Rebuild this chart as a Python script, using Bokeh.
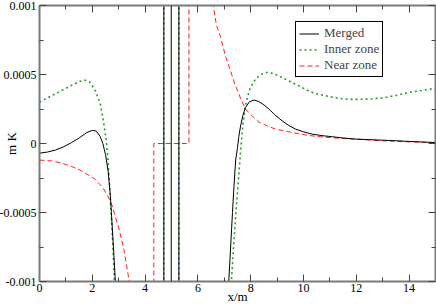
import numpy as np
from bokeh.plotting import figure
from bokeh.models import Range1d, LinearAxis, FixedTicker, CustomJSTickFormatter, Legend, LegendItem
from bokeh.embed import file_html
from bokeh.resources import INLINE

# ---------------- data ----------------
x_ticks = [0, 2, 4, 6, 8, 10, 12, 14]
x_minor = [1, 3, 5, 7, 9, 11, 13]
y_ticks = [-0.001, -0.0005, 0, 0.0005, 0.001]
y_minor = [-0.00075, -0.00025, 0.00025, 0.00075]
y_labels = ["-0.001", "-0.0005", "0", "0.0005", "0.001"]

series_names = ["Merged", "Inner zone", "Near zone"]

merged_x1 = [0, 0.3, 0.6, 0.9, 1.2, 1.5, 1.8, 2.0, 2.15, 2.3, 2.4, 2.5, 2.6, 2.68, 2.76, 2.83, 2.9]
merged_y1 = [-0.00007, -0.000062, -0.000048, -0.000025, 0.000005, 0.00004, 0.00008, 0.000095,
             0.00009, 0.00005, 0.0, -0.00008, -0.0002, -0.00037, -0.00062, -0.00085, -0.0011]
merged_pole_x = [4.71, 4.99, 5.28]
merged_pole_y = [-0.002, 0.002]
merged_x2 = [7.14, 7.17, 7.24, 7.31, 7.37, 7.43, 7.5, 7.55, 7.61, 7.7, 7.8, 7.95, 8.12, 8.31, 8.5,
             8.69, 8.9, 9.19, 9.45, 9.7, 10.0, 10.33, 10.7, 11.09, 11.5, 11.97, 12.5, 13.0, 13.5,
             14.0, 14.5, 15.0]
merged_y2 = [-0.0011, -0.001, -0.00075, -0.0005, -0.0003, -0.00012, -0.00003, 0.00005, 0.00012,
             0.0002, 0.00026, 0.000302, 0.000315, 0.000304, 0.00028, 0.00025, 0.00021, 0.000164,
             0.00013, 0.000104, 0.000085, 0.000068, 0.000057, 0.000049, 0.00004, 0.000032,
             0.000028, 0.000024, 0.00002, 0.000015, 0.000011, 0.000007]

inner_x1 = [0, 0.3, 0.6, 0.9, 1.2, 1.5, 1.7, 1.9, 2.1, 2.3, 2.42, 2.53, 2.6, 2.68, 2.77, 2.84, 2.88]
inner_y1 = [0.0003, 0.00033, 0.00036, 0.00039, 0.00042, 0.000448, 0.00046, 0.000445, 0.00039,
            0.00029, 0.000164, 0.00002, -0.00013, -0.00039, -0.0007, -0.001, -0.0012]
inner_pole_x = [4.71, 5.28]
inner_pole_y = [-0.002, 0.002]
inner_x2 = [7.22, 7.27, 7.35, 7.44, 7.53, 7.62, 7.7, 7.78, 7.87, 7.96, 8.06, 8.2, 8.35, 8.5, 8.62,
            8.8, 9.06, 9.3, 9.57, 9.9, 10.2, 10.5, 10.83, 11.15, 11.47, 11.8, 12.1, 12.5, 13.0,
            13.5, 14.0, 14.5, 15.0]
inner_y2 = [-0.0012, -0.001, -0.00075, -0.0005, -0.00028, -0.00005, 0.00013, 0.00025, 0.00033,
            0.00039, 0.00043, 0.00047, 0.000495, 0.00051, 0.000515, 0.00051, 0.00049, 0.000468,
            0.000442, 0.00041, 0.00038, 0.00036, 0.000346, 0.000333, 0.000324, 0.00032, 0.00032,
            0.000322, 0.00033, 0.000348, 0.00037, 0.000385, 0.0004]

near_x1 = [0, 0.4, 0.8, 1.2, 1.5, 1.8, 2.1, 2.4, 2.7, 3.0, 3.2, 3.4, 3.46]
near_y1 = [-0.00012, -0.000125, -0.00014, -0.000165, -0.00019, -0.000222, -0.000258, -0.00032,
           -0.00042, -0.00061, -0.00077, -0.001, -0.0011]
near_step_x = [4.33, 4.33, 5.66, 5.66]
near_step_y = [-0.002, 0.0, 0.0, 0.002]
near_x2 = [6.48, 6.58, 6.7, 6.86, 7.05, 7.23, 7.4, 7.61, 7.8, 8.0, 8.31, 8.6, 8.94, 9.57, 10.2,
           10.83, 11.9, 13.0, 14.0, 15.0]
near_y2 = [0.00108, 0.001, 0.00086, 0.00077, 0.00063, 0.00053, 0.00043, 0.00033, 0.00025, 0.00021,
           0.000155, 0.00013, 0.000104, 0.00008, 0.000058, 0.000045, 0.000032, 0.00002, 0.000012,
           0.000006]


def join(parts):
    xs, ys = [], []
    for px, py in parts:
        if xs:
            xs.append(np.nan)
            ys.append(np.nan)
        xs.extend(px)
        ys.extend(py)
    return xs, ys


def poles(px, py):
    return [([x, x], py) for x in px]


mx, my = join([(merged_x1, merged_y1)] + poles(merged_pole_x, merged_pole_y) + [(merged_x2, merged_y2)])
ix, iy = join([(inner_x1, inner_y1)] + poles(inner_pole_x, inner_pole_y) + [(inner_x2, inner_y2)])
nx, ny = join([(near_x1, near_y1), (near_step_x, near_step_y), (near_x2, near_y2)])

# ---------------- figure ----------------
FONT = "Liberation Serif"
AXIS_COLOR = "#7a7a7a"
TICK_COLOR = "#444444"

p = figure(width=436, height=306, output_backend="svg", toolbar_location=None,
           x_range=Range1d(0, 15), y_range=Range1d(-0.001, 0.001),
           min_border_left=0, min_border_right=1, min_border_top=5, min_border_bottom=0)
p.outline_line_color = None
p.xgrid.visible = False
p.ygrid.visible = False
p.background_fill_color = "white"
p.border_fill_color = "white"

l_in = p.line(ix, iy, line_color="#22a022", line_width=1.6, line_dash="2 3")
l_near = p.line(nx, ny, line_color="#ff2020", line_width=1, line_dash="5 3")
l_m = p.line(mx, my, line_color="black", line_width=1)

def style_axis(ax, labels=True):
    ax.axis_line_color = AXIS_COLOR
    ax.axis_line_width = 2
    ax.major_tick_line_color = TICK_COLOR
    ax.minor_tick_line_color = TICK_COLOR
    ax.major_tick_in = 7
    ax.major_tick_out = 0
    ax.minor_tick_in = 4
    ax.minor_tick_out = 0
    ax.major_label_text_font = FONT
    ax.major_label_text_font_size = "12px"
    ax.major_label_text_color = "black"
    ax.axis_label_text_font = FONT
    ax.axis_label_text_font_size = "13px"
    ax.axis_label_text_font_style = "normal"
    ax.axis_label_text_color = "black"
    if not labels:
        ax.formatter = CustomJSTickFormatter(code="return ''")
        ax.major_label_standoff = 0

xt = FixedTicker(ticks=x_ticks, minor_ticks=x_minor)
yt = FixedTicker(ticks=y_ticks, minor_ticks=y_minor)

xa = p.xaxis[0]
xa.ticker = xt
xa.axis_label = "x/m"
xa.major_label_standoff = 2
xa.axis_label_standoff = -6
style_axis(xa)

ya = p.yaxis[0]
ya.ticker = yt
ya.major_label_overrides = dict(zip(y_ticks, y_labels))
ya.axis_label = "m K"
ya.major_label_standoff = 3
ya.axis_label_standoff = -22
style_axis(ya)

ra = LinearAxis(ticker=FixedTicker(ticks=y_ticks, minor_ticks=y_minor))
style_axis(ra, labels=False)
p.add_layout(ra, "right")
ta = LinearAxis(ticker=FixedTicker(ticks=x_ticks, minor_ticks=x_minor))
style_axis(ta, labels=False)
p.add_layout(ta, "above")

legend = Legend(items=[LegendItem(label=series_names[0], renderers=[l_m]),
                       LegendItem(label=series_names[1], renderers=[l_in]),
                       LegendItem(label=series_names[2], renderers=[l_near])],
                location=(256, 204))
legend.label_text_font = FONT
legend.label_text_font_size = "13px"
legend.label_text_line_height = 1.0
legend.label_height = 13
legend.glyph_height = 13
legend.glyph_width = 20
legend.label_standoff = 5
legend.spacing = 0
legend.padding = 3
legend.margin = 0
legend.border_line_color = "black"
legend.border_line_width = 1
legend.border_line_alpha = 1
legend.background_fill_alpha = 1
p.add_layout(legend, "center")

open("out.html", "w").write(file_html(p, INLINE))
